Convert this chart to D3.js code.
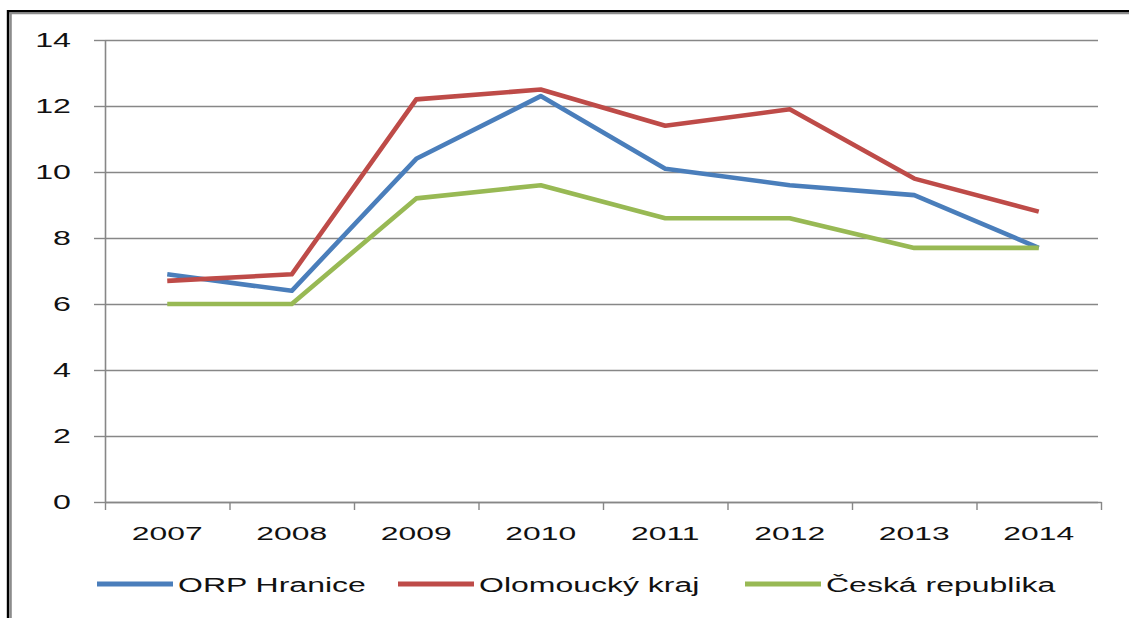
<!DOCTYPE html>
<html>
<head>
<meta charset="utf-8">
<script src="https://cdn.jsdelivr.net/npm/d3@7"></script>
<style>
  body { margin: 0; background: #fff; }
  text { font-family: "Liberation Sans", Arial, sans-serif; fill: #111; }
</style>
</head>
<body>
<svg id="chart"></svg>
<script>
var years = ["2007", "2008", "2009", "2010", "2011", "2012", "2013", "2014"];
var hranice = [6.9, 6.4, 10.4, 12.3, 10.1, 9.6, 9.3, 7.7];
var olomoucky = [6.7, 6.9, 12.2, 12.5, 11.4, 11.9, 9.8, 8.8];
var cesko = [6.0, 6.0, 9.2, 9.6, 8.6, 8.6, 7.7, 7.7];
var seriesNames = ["ORP Hranice", "Olomoucký kraj", "Česká republika"];
var yTicks = [0, 2, 4, 6, 8, 10, 12, 14];

var width = 1129, height = 618;
var plotLeft = 105, plotRight = 1101, plotTop = 40, plotBottom = 502;
var stretch = 1.65;
var colors = ["#4a7ebb", "#be4b48", "#98b954"];

var svg = d3.select("#chart")
            .attr("width", width)
            .attr("height", height);

// frame: only top and left edges are visible
svg.append("line").attr("x1", 8).attr("x2", width).attr("y1", 11.3).attr("y2", 11.3)
   .attr("stroke", "#000").attr("stroke-width", 2.6);
svg.append("line").attr("x1", 8).attr("x2", width).attr("y1", 13.4).attr("y2", 13.4)
   .attr("stroke", "#8c8c8c").attr("stroke-width", 1.6);
svg.append("line").attr("x1", 8).attr("x2", 8).attr("y1", 10).attr("y2", height)
   .attr("stroke", "#000").attr("stroke-width", 2.4);
svg.append("line").attr("x1", 10.5).attr("x2", 10.5).attr("y1", 12.6).attr("y2", height)
   .attr("stroke", "#8c8c8c").attr("stroke-width", 2.6);

var x = d3.scaleBand().domain(years).range([plotLeft, plotRight]);
var xEdge = d3.scaleLinear().domain([0, years.length]).range([plotLeft, plotRight]);
var y = d3.scaleLinear().domain([0, 14]).range([plotBottom, plotTop]);

// gridlines
svg.append("g")
    .attr("transform", "translate(" + plotLeft + ",0)")
    .call(d3.axisLeft(y).tickValues(yTicks).tickSize(-(1098 - plotLeft)).tickFormat(""))
    .call(g => g.select(".domain").remove())
    .call(g => g.selectAll("line").attr("stroke", "#878787").attr("stroke-width", 1.4));

// left axis with outside ticks
svg.append("g")
    .attr("transform", "translate(" + plotLeft + ",0)")
    .call(d3.axisLeft(y).tickValues(yTicks).tickSize(11).tickFormat("").tickSizeOuter(0))
    .call(g => g.select(".domain").attr("stroke", "#878787").attr("stroke-width", 1.6))
    .call(g => g.selectAll("line").attr("stroke", "#878787").attr("stroke-width", 1.4));

// bottom axis with ticks at category edges
svg.append("g")
    .attr("transform", "translate(0," + plotBottom + ")")
    .call(d3.axisBottom(xEdge).ticks(years.length).tickSize(8).tickSizeOuter(0).tickFormat(""))
    .call(g => g.select(".domain").attr("stroke", "#878787").attr("stroke-width", 1.6))
    .call(g => g.selectAll("line").attr("stroke", "#878787").attr("stroke-width", 1.4));

// y labels
svg.append("g").selectAll("text")
    .data(yTicks)
    .enter().append("text")
    .attr("transform", d => "translate(71," + (y(d) + 7) + ") scale(" + stretch + ",1)")
    .attr("text-anchor", "end")
    .attr("font-size", "19.5px")
    .text(d => d);

// x labels
svg.append("g").selectAll("text")
    .data(years)
    .enter().append("text")
    .attr("transform", d => "translate(" + (x(d) + x.bandwidth() / 2) + ",540) scale(1.72,1)")
    .attr("text-anchor", "middle")
    .attr("font-size", "18.5px")
    .text(d => d);

// lines
var line = d3.line()
             .x((d, i) => x(years[i]) + x.bandwidth() / 2)
             .y(d => y(d));

[hranice, olomoucky, cesko].forEach((vals, k) => {
  svg.append("path")
      .datum(vals)
      .attr("fill", "none")
      .attr("stroke", colors[k])
      .attr("stroke-width", 4.6)
      .attr("stroke-linejoin", "round")
      .attr("d", line);
});

// legend
var legendX = [97, 398, 745];
var legend = svg.append("g").selectAll("g")
    .data(seriesNames)
    .enter().append("g")
    .attr("transform", (d, i) => "translate(" + legendX[i] + ",584)");

legend.append("line")
    .attr("x1", 0).attr("x2", 76)
    .attr("stroke", (d, i) => colors[i])
    .attr("stroke-width", 5);

legend.append("text")
    .attr("transform", "translate(81,8) scale(1.6,1)")
    .attr("font-size", "20px")
    .text(d => d);
</script>
</body>
</html>
